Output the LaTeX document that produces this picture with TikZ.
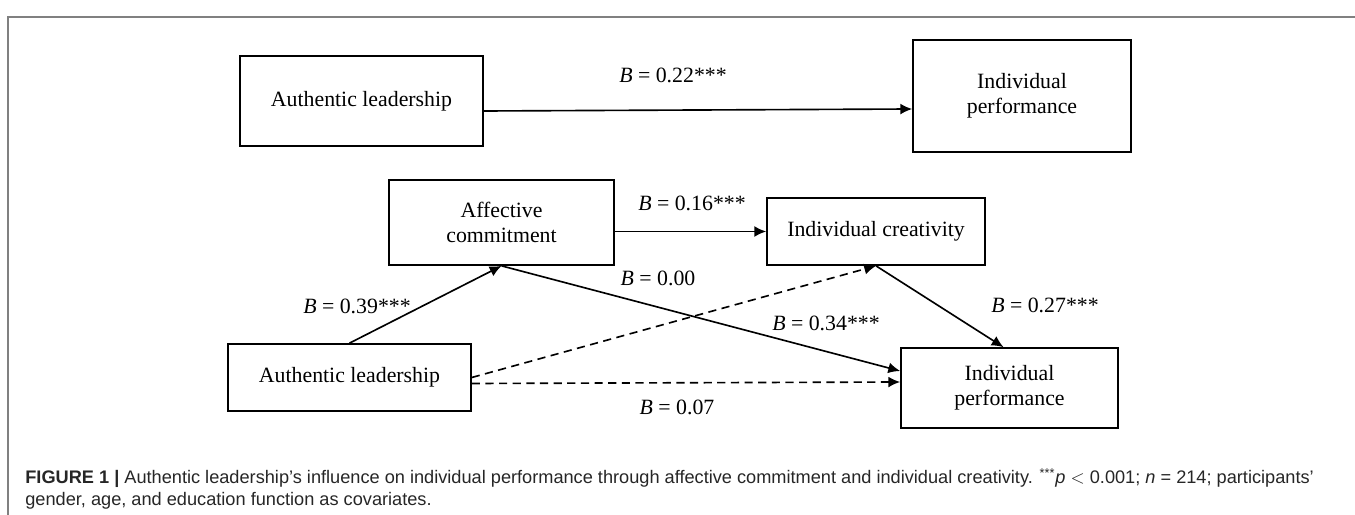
\documentclass[tikz,border=0pt]{standalone}
\usepackage{fontspec}
\setmainfont{Liberation Serif}
\newfontfamily\capfont{Liberation Sans}
\usepackage{tikz}
\usetikzlibrary{arrows.meta,calc}

\begin{document}
\begin{tikzpicture}[x=0.55pt,y=-0.55pt,
		box/.style={draw,line width=0.9pt,align=center,inner sep=2pt,font=\fontsize{12}{14}\selectfont},
		path/.style={line width=0.9pt,-{Latex[length=6.5pt,width=6pt]}},
		nopath/.style={path,dash pattern=on 4.5pt off 3pt},
		coef/.style={font=\fontsize{12}{14}\selectfont}]
			\useasboundingbox (0,0) rectangle (1355,515);
			
			% Frame
			\draw[gray,line width=1.1pt] (8,515) -- (8,17) -- (1355,17);
			
			% Total effect
			\node[box,minimum width=133.6pt,minimum height=49.5pt] (al1) at (361.5,101) {Authentic leadership};
			\node[box,minimum width=119.9pt,minimum height=61.6pt] (ip1) at (1022,96) {Individual\\performance};
			\draw[path] ($(al1.east)+(0,10)$) -- ($(ip1.west)+(0,13)$);
			\node[coef] at (673,75) {\textit{B} = 0.22***};
			
			% Serial mediation
			\node[box,minimum width=123.8pt,minimum height=46.8pt] (ac) at (501.5,222.5) {Affective\\commitment};
			\node[box,minimum width=133.6pt,minimum height=36.9pt] (al2) at (349.5,377.5) {Authentic leadership};
			\node[box,minimum width=119.9pt,minimum height=36.9pt] (ic) at (876,231.5) {Individual creativity};
			\node[box,minimum width=119.4pt,minimum height=44pt] (ip2) at (1009.5,388) {Individual\\performance};
			
			\draw[path] (al2.north) -- (ac.south);
			\draw[path] (ac.east |- ic.west) -- (ic.west);
			\draw[path] (ac.south) -- ($(ip2.west)+(0,-17)$);
			\draw[path] (ic.south) -- ($(ip2.north)+(-6,0)$);
			\draw[nopath] (al2.east) -- (ic.south);
			\draw[nopath] ($(al2.east)+(0,6)$) -- ($(ip2.west)+(0,-6)$);
			
			\node[coef] at (357,306) {\textit{B} = 0.39***};
			\node[coef] at (692,203) {\textit{B} = 0.16***};
			\node[coef] at (658,278) {\textit{B} = 0.00};
			\node[coef] at (826,323) {\textit{B} = 0.34***};
			\node[coef] at (677,407) {\textit{B} = 0.07};
			\node[coef] at (1045,305) {\textit{B} = 0.27***};
			
			% Caption
			\node[anchor=north west,align=left,inner sep=0pt,text=black!85,font=\capfont\fontsize{10}{12}\selectfont] (cap) at (25,468)
				{\textbf{FIGURE 1 |} Authentic leadership’s influence on individual performance through affective commitment and individual creativity. \textsuperscript{***}\textit{p} $<$ 0.001; \textit{n} = 214; participants’\\
				gender, age, and education function as covariates.};
		\end{tikzpicture}
\end{document}
